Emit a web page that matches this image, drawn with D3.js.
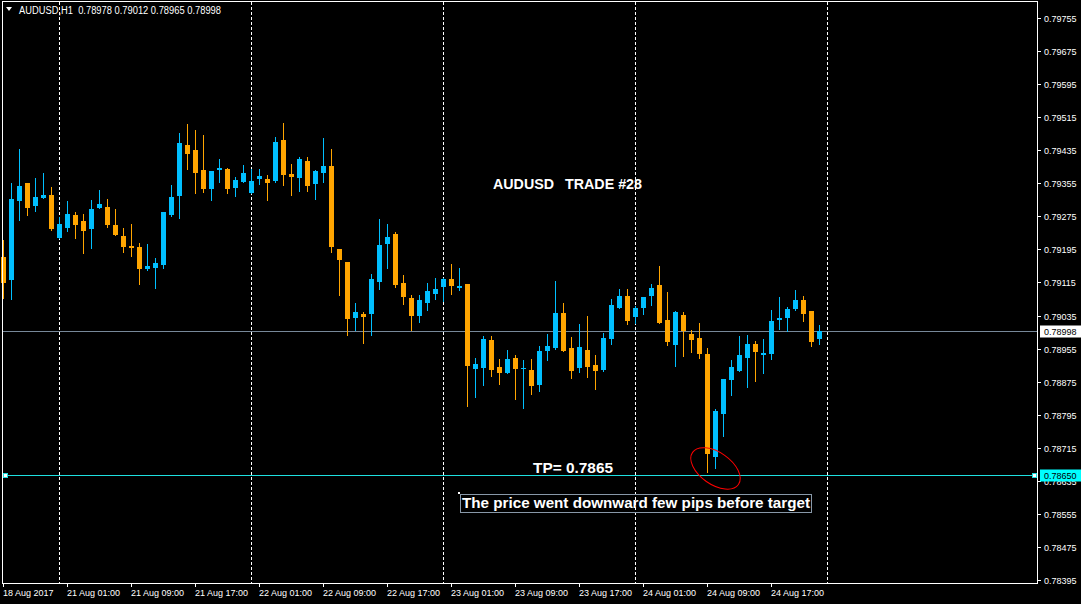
<!DOCTYPE html>
<html><head><meta charset="utf-8">
<script src="https://cdn.jsdelivr.net/npm/d3@7/dist/d3.min.js"></script>
<style>html,body{margin:0;padding:0;background:#000;overflow:hidden}</style>
</head><body>
<svg id="chart" width="1081" height="604" style="display:block"></svg>
<script>
// ---------- data ----------
const symbolLabel = "AUDUSD,H1";
const sessions = [
  {day: "18 Aug", from: 17, to: 23},
  {day: "21 Aug", from: 0, to: 23},
  {day: "22 Aug", from: 0, to: 23},
  {day: "23 Aug", from: 0, to: 23},
  {day: "24 Aug", from: 0, to: 23}
];
const opens = [0.79177,0.79121,0.79312,0.79356,0.79300,0.79319,0.79327,0.79223,0.79247,0.79278,
0.79264,0.79244,0.79295,0.79298,0.79254,0.79227,0.79203,0.79201,0.79148,0.79150,
0.79157,0.79278,0.79324,0.79448,0.79436,0.79387,0.79341,0.79387,0.79390,0.79344,
0.79358,0.79332,0.79365,0.79365,0.79361,0.79460,0.79377,0.79368,0.79409,0.79353,
0.79380,0.79397,0.79196,0.79165,0.79029,0.79039,0.79039,0.79116,0.79208,0.79232,
0.79114,0.79077,0.79034,0.79065,0.79087,0.79104,0.79123,0.79102,0.79111,0.78906,
0.78908,0.78976,0.78910,0.78896,0.78932,0.78906,0.78903,0.78867,0.78949,0.78956,
0.79041,0.78956,0.78908,0.78952,0.78915,0.78903,0.78978,0.79053,0.79082,0.79031,
0.79053,0.79082,0.79109,0.79024,0.78964,0.79036,0.78990,0.78981,0.78942,0.78693,
0.78797,0.78879,0.78901,0.78932,0.78966,0.78939,0.78942,0.79024,0.79029,0.79051,
0.79073,0.79046,0.78978];
const highs = [0.79218,0.79356,0.79438,0.79356,0.79368,0.79380,0.79346,0.79273,0.79312,0.79285,
0.79281,0.79315,0.79339,0.79317,0.79293,0.79247,0.79256,0.79210,0.79208,0.79174,
0.79285,0.79351,0.79477,0.79498,0.79484,0.79472,0.79385,0.79414,0.79392,0.79370,
0.79399,0.79390,0.79390,0.79375,0.79467,0.79501,0.79402,0.79419,0.79419,0.79387,
0.79465,0.79438,0.79196,0.79165,0.79065,0.79044,0.79135,0.79269,0.79256,0.79237,
0.79133,0.79085,0.79085,0.79114,0.79126,0.79126,0.79160,0.79150,0.79111,0.78932,
0.78985,0.78985,0.78930,0.78952,0.78939,0.78927,0.78930,0.78961,0.78990,0.79119,
0.79065,0.78983,0.79015,0.79034,0.78939,0.78993,0.79075,0.79099,0.79099,0.79058,
0.79080,0.79111,0.79155,0.79092,0.79046,0.79044,0.79000,0.79017,0.78956,0.78809,
0.78881,0.78927,0.78985,0.78988,0.78973,0.78978,0.79048,0.79080,0.79056,0.79097,
0.79082,0.79046,0.79012];
const lows = [0.79077,0.79075,0.79266,0.79278,0.79288,0.79319,0.79242,0.79223,0.79240,0.79223,
0.79186,0.79198,0.79295,0.79249,0.79230,0.79189,0.79179,0.79111,0.79145,0.79102,
0.79150,0.79276,0.79271,0.79390,0.79332,0.79334,0.79315,0.79358,0.79332,0.79324,
0.79358,0.79332,0.79353,0.79315,0.79358,0.79351,0.79327,0.79336,0.79336,0.79317,
0.79358,0.79189,0.79085,0.78988,0.79000,0.78968,0.78988,0.79099,0.79150,0.79104,
0.79063,0.79000,0.79019,0.79048,0.79075,0.79070,0.79087,0.79097,0.78816,0.78838,
0.78867,0.78889,0.78869,0.78896,0.78833,0.78811,0.78845,0.78852,0.78927,0.78954,
0.78949,0.78884,0.78898,0.78886,0.78857,0.78901,0.78966,0.79053,0.79015,0.79017,
0.79039,0.79060,0.79017,0.78964,0.78913,0.78937,0.78947,0.78932,0.78656,0.78666,
0.78743,0.78843,0.78901,0.78862,0.78877,0.78896,0.78930,0.79002,0.78998,0.79048,
0.79022,0.78961,0.78965];
const closes = [0.79114,0.79317,0.79348,0.79295,0.79322,0.79327,0.79244,0.79256,0.79281,0.79254,
0.79240,0.79293,0.79305,0.79254,0.79230,0.79201,0.79198,0.79148,0.79155,0.79162,
0.79285,0.79322,0.79452,0.79426,0.79380,0.79341,0.79385,0.79392,0.79341,0.79363,
0.79380,0.79361,0.79373,0.79356,0.79455,0.79375,0.79370,0.79414,0.79348,0.79385,
0.79397,0.79201,0.79169,0.79027,0.79044,0.79031,0.79123,0.79206,0.79225,0.79109,
0.79080,0.79034,0.79073,0.79094,0.79099,0.79123,0.79106,0.79106,0.78913,0.78918,
0.78978,0.78903,0.78896,0.78930,0.78906,0.78908,0.78864,0.78949,0.78961,0.79041,
0.78949,0.78901,0.78959,0.78910,0.78901,0.78981,0.79060,0.79082,0.79022,0.79053,
0.79080,0.79102,0.79017,0.78971,0.79044,0.78998,0.78976,0.78942,0.78700,0.78804,
0.78881,0.78910,0.78939,0.78966,0.78947,0.78944,0.79022,0.79029,0.79051,0.79073,
0.79039,0.78971,0.78998];
const priceTicks = [0.79755,0.79675,0.79595,0.79515,0.79435,0.79355,0.79275,0.79195,0.79115,
0.79035,0.78955,0.78875,0.78795,0.78715,0.78635,0.78555,0.78475,0.78395];
const timeTickKeys = ["18 Aug 17:00","21 Aug 01:00","21 Aug 09:00","21 Aug 17:00","22 Aug 01:00",
"22 Aug 09:00","22 Aug 17:00","23 Aug 01:00","23 Aug 09:00","23 Aug 17:00","24 Aug 01:00",
"24 Aug 09:00","24 Aug 17:00"];
const timeTickLabels = ["18 Aug 2017","21 Aug 01:00","21 Aug 09:00","21 Aug 17:00","22 Aug 01:00",
"22 Aug 09:00","22 Aug 17:00","23 Aug 01:00","23 Aug 09:00","23 Aug 17:00","24 Aug 01:00",
"24 Aug 09:00","24 Aug 17:00"];
const daySeparators = ["21 Aug 00:00","22 Aug 00:00","23 Aug 00:00","24 Aug 00:00","25 Aug 00:00"];
const lastPrice = 0.78998;
const tpPrice = 0.78650;
const tpText = "TP= 0.7865";
const noteText = "The price went downward few pips before target";
const titleA = "AUDUSD", titleB = "TRADE #28";
const circleTime = "24 Aug 10:00", circlePrice = 0.78665;

// ---------- build ----------
(function () {
const pad = h => (h < 10 ? "0" : "") + h + ":00";
const times = [];
sessions.forEach(s => { for (let h = s.from; h <= s.to; h++) times.push(s.day + " " + pad(h)); });
const slots = times.concat(["25 Aug 00:00"]);
const candles = times.map((t, i) => ({t, i, o: opens[i], h: highs[i], l: lows[i], c: closes[i]}));

const W = 1081, H = 604;
const fLeft = 2, fRight = 1037, fTop = 2, fBottom = 583;
const x = d3.scaleLinear().domain([0, times.length - 1]).range([3.5, 3.5 + 8 * (times.length - 1)]);
const y = d3.scaleLinear().domain([priceTicks[priceTicks.length - 1], priceTicks[0]]).range([580, 18]);
const xi = key => x(slots.indexOf(key));
const ry = p => Math.round(y(p));

const BULL = "#00bfff", BEAR = "#ffa500";
const svg = d3.select("#chart");
svg.append("rect").attr("width", W).attr("height", H).attr("fill", "#000");

// day separators
svg.append("g").selectAll("line").data(daySeparators).join("line")
  .attr("x1", d => xi(d)).attr("x2", d => xi(d)).attr("y1", fTop).attr("y2", fBottom)
  .attr("stroke", "#fff").attr("stroke-dasharray", "3,2").attr("shape-rendering", "crispEdges");

// last price line
svg.append("line").attr("x1", fLeft).attr("x2", fRight)
  .attr("y1", ry(lastPrice) + 0.5).attr("y2", ry(lastPrice) + 0.5)
  .attr("stroke", "#778899").attr("shape-rendering", "crispEdges");

// candles
const g = svg.append("g").attr("shape-rendering", "crispEdges");
g.selectAll("line.w").data(candles).join("line").attr("class", "w")
  .attr("x1", d => x(d.i)).attr("x2", d => x(d.i))
  .attr("y1", d => ry(d.h)).attr("y2", d => ry(d.l) + 1)
  .attr("stroke", d => d.c > d.o ? BULL : BEAR);
g.selectAll("rect.b").data(candles).join("rect").attr("class", "b")
  .attr("x", d => x(d.i) - 2.5).attr("width", 5)
  .attr("y", d => ry(Math.max(d.o, d.c)))
  .attr("height", d => Math.max(1, ry(Math.min(d.o, d.c)) - ry(Math.max(d.o, d.c))))
  .attr("fill", d => d.c > d.o ? BULL : BEAR);

// TP line
const tpY = ry(tpPrice) + 0.5;
svg.append("line").attr("x1", 5).attr("x2", fRight - 2).attr("y1", tpY).attr("y2", tpY)
  .attr("stroke", "#1ee0e0").attr("shape-rendering", "crispEdges");
svg.append("rect").attr("x", 3.5).attr("y", tpY - 2).attr("width", 4).attr("height", 4)
  .attr("fill", "#fff").attr("stroke", "#1ee0e0").attr("shape-rendering", "crispEdges");
svg.append("rect").attr("x", fRight - 4.5).attr("y", tpY - 2).attr("width", 4).attr("height", 4)
  .attr("fill", "#fff").attr("stroke", "#1ee0e0").attr("shape-rendering", "crispEdges");

// frame
const frame = svg.append("g").attr("stroke", "#fff").attr("shape-rendering", "crispEdges");
frame.append("line").attr("x1", fLeft + 0.5).attr("x2", fLeft + 0.5).attr("y1", fTop).attr("y2", fBottom + 1);
frame.append("line").attr("x1", fRight + 0.5).attr("x2", fRight + 0.5).attr("y1", fTop).attr("y2", fBottom + 1);
frame.append("line").attr("x1", fLeft).attr("x2", fRight + 1).attr("y1", fBottom + 0.5).attr("y2", fBottom + 0.5);
frame.append("line").attr("x1", fLeft).attr("x2", fRight + 1).attr("y1", fTop - 0.5).attr("y2", fTop - 0.5);

// price axis
const axisFont = "'Liberation Sans', Arial, sans-serif";
const pa = svg.append("g");
pa.selectAll("line").data(priceTicks).join("line")
  .attr("x1", fRight + 1).attr("x2", fRight + 4).attr("y1", d => ry(d) + 0.5).attr("y2", d => ry(d) + 0.5)
  .attr("stroke", "#fff").attr("shape-rendering", "crispEdges");
pa.selectAll("text").data(priceTicks).join("text")
  .attr("x", 1044).attr("y", d => ry(d) + 3.5)
  .attr("fill", "#fff").attr("font-family", axisFont).attr("font-size", 9)
  .text(d => d.toFixed(5));

// time axis
const ta = svg.append("g");
ta.selectAll("line").data(timeTickKeys).join("line")
  .attr("x1", d => xi(d)).attr("x2", d => xi(d)).attr("y1", fBottom).attr("y2", fBottom + 4)
  .attr("stroke", "#fff").attr("shape-rendering", "crispEdges");
ta.selectAll("text").data(timeTickKeys).join("text")
  .attr("x", d => xi(d) - 0.5).attr("y", 596)
  .attr("fill", "#fff").attr("font-family", axisFont).attr("font-size", 9)
  .text((d, i) => timeTickLabels[i]);

// price labels on axis
function priceBox(p, bg) {
  const yy = ry(p);
  svg.append("rect").attr("x", 1040).attr("y", yy - 5.5).attr("width", 41).attr("height", 12)
    .attr("fill", bg);
  svg.append("text").attr("x", 1044).attr("y", yy + 3.5).attr("fill", "#000")
    .attr("font-family", axisFont).attr("font-size", 9).text(p.toFixed(5));
}
priceBox(lastPrice, "#fff");
priceBox(tpPrice, "#00ffff");

// header
svg.append("path").attr("d", "M6,7 L12,7 L9,11 Z").attr("fill", "#fff");
svg.append("text").attr("x", 19).attr("y", 14).attr("fill", "#fff")
  .attr("font-family", axisFont).attr("font-size", 10)
  .attr("textLength", 202).attr("lengthAdjust", "spacingAndGlyphs")
  .attr("xml:space", "preserve")
  .text(symbolLabel + "  " + [opens[opens.length-1], highs[highs.length-1], lows[lows.length-1], closes[closes.length-1]].map(v => v.toFixed(5)).join(" "));

// annotations
const boldFont = "'Liberation Sans', Arial, sans-serif";
function btext(str, xx, yy, len) {
  svg.append("text").attr("x", xx).attr("y", yy).attr("fill", "#fff")
    .attr("font-family", boldFont).attr("font-weight", "bold").attr("font-size", 14)
    .attr("textLength", len).attr("lengthAdjust", "spacingAndGlyphs").text(str);
}
btext(titleA, 493, 189, 61);
btext(titleB, 565, 189, 77);
btext(tpText, 533, ry(tpPrice) - 2, 80);
svg.append("rect").attr("x", 460.5).attr("y", 494.5).attr("width", 351).attr("height", 18)
  .attr("fill", "none").attr("stroke", "#8898a8").attr("shape-rendering", "crispEdges");
svg.append("rect").attr("x", 458).attr("y", 492).attr("width", 2).attr("height", 2).attr("fill", "#fff");
btext(noteText, 462, 508, 348);

// red circle
const cx = xi(circleTime), cy = y(circlePrice);
svg.append("ellipse").attr("cx", 0).attr("cy", 0).attr("rx", 28).attr("ry", 16)
  .attr("transform", `translate(${cx},${cy}) rotate(35)`)
  .attr("fill", "none").attr("stroke", "#ff0000").attr("stroke-width", 1);
})();
</script>
</body></html>
